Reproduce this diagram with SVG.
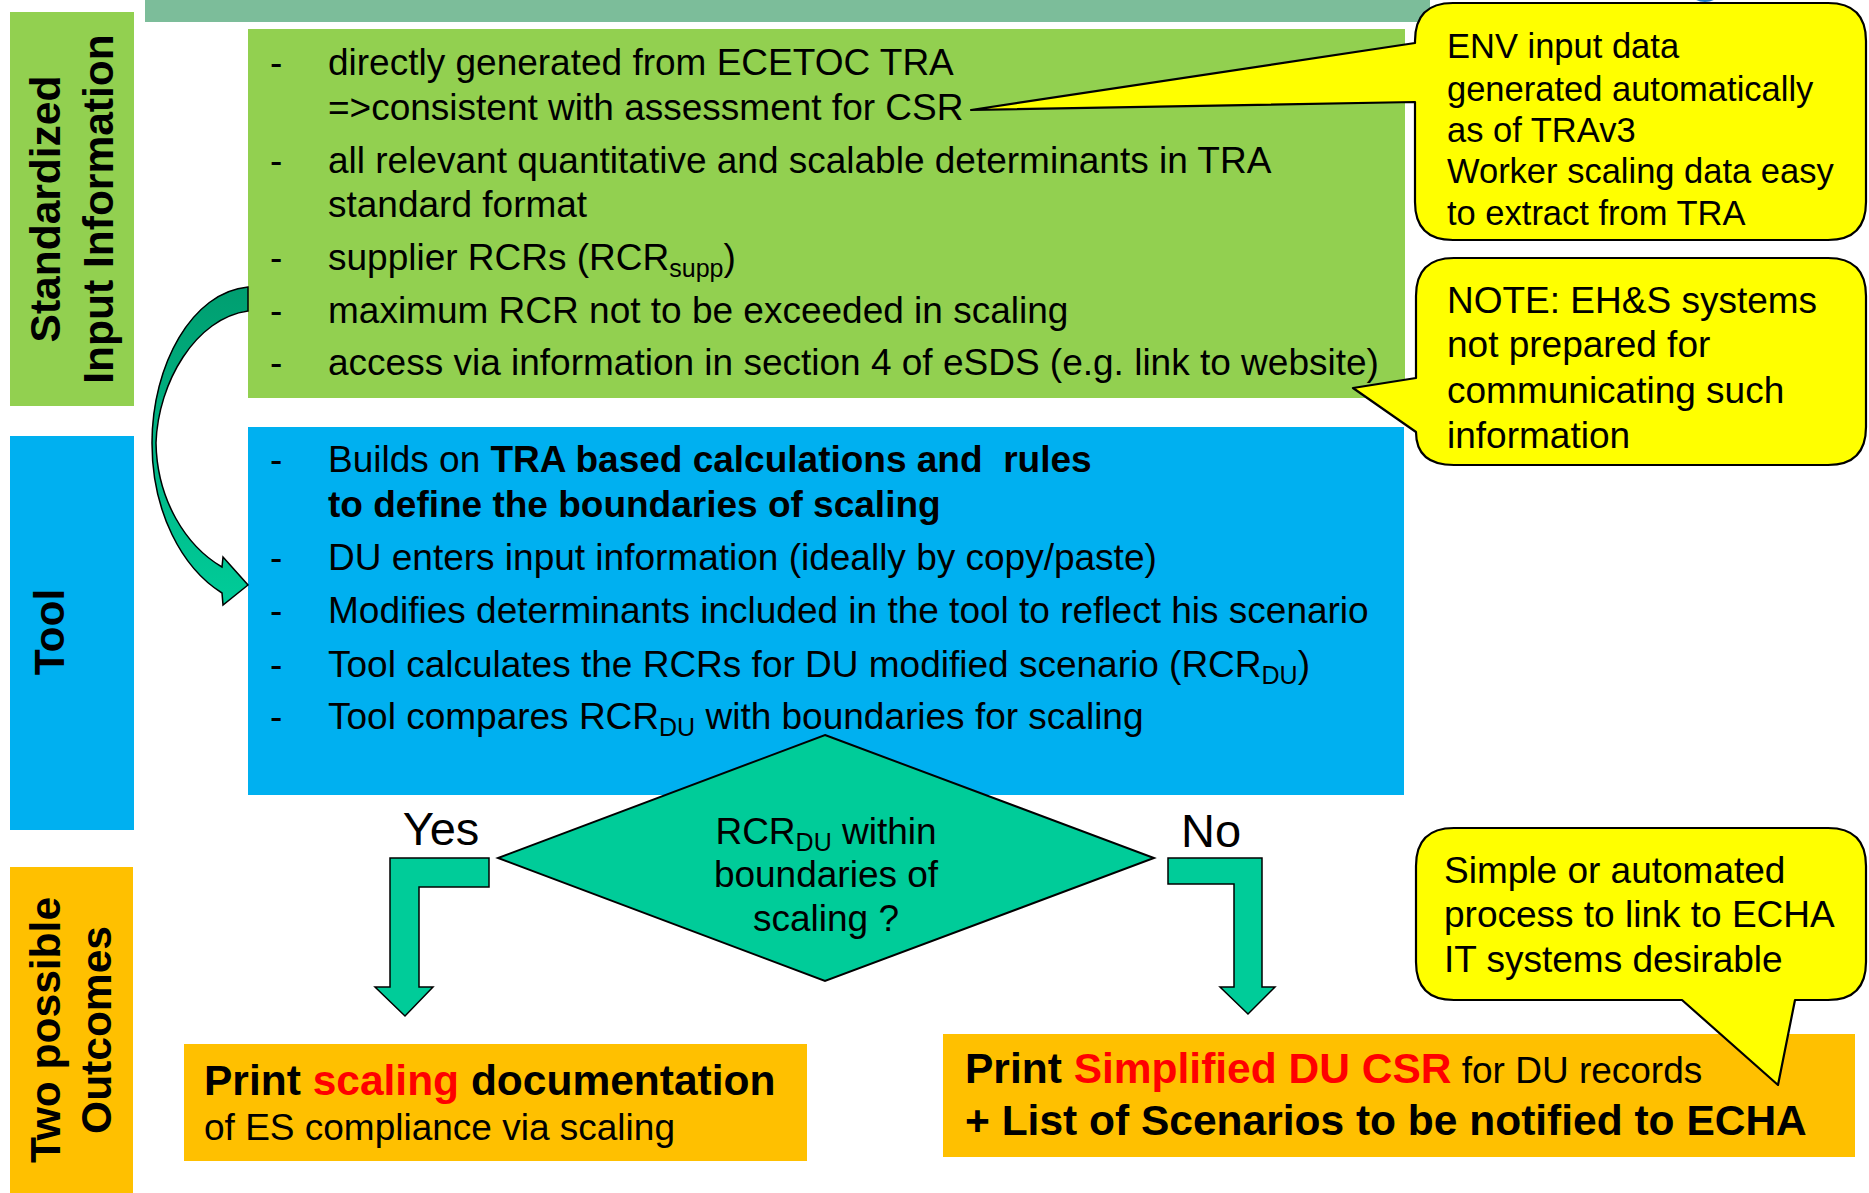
<svg xmlns="http://www.w3.org/2000/svg" width="1869" height="1193" viewBox="0 0 1869 1193">
<style>
text{font-family:"Liberation Sans",Arial,sans-serif;fill:#000}
.t{font-size:37px}
.c{font-size:34.5px}
.c2{font-size:37px}
.b{font-weight:bold}
.lab{font-size:42.5px;font-weight:bold}
.red{fill:#FF0000}
.call{fill:#FFFF00;stroke:#000;stroke-width:2.2;stroke-linejoin:round}
.arr{fill:#00CC99;stroke:#000;stroke-width:1.5;stroke-linejoin:miter}
</style>
<defs>
<linearGradient id="cg" x1="0" y1="0" x2="0" y2="1">
<stop offset="0" stop-color="#009E70"/>
<stop offset="1" stop-color="#00CC99"/>
</linearGradient>
</defs>
<rect width="1869" height="1193" fill="#fff"/>
<g id="topbar">
<rect x="145" y="0" width="1285" height="22" fill="#7CBD9A"/>
<ellipse cx="1705" cy="-12" rx="17" ry="14" fill="#1F78C8"/>
</g>
<g id="label-input">
<rect x="10" y="12" width="124" height="394" fill="#92D050"/>
<text class="lab" text-anchor="middle" transform="translate(60,209) rotate(-90)">Standardized</text>
<text class="lab" text-anchor="middle" transform="translate(113,209) rotate(-90)">Input Information</text>
</g>
<g id="label-tool">
<rect x="10" y="436" width="124" height="394" fill="#00B0F0"/>
<text class="lab" text-anchor="middle" transform="translate(64,632) rotate(-90)">Tool</text>
</g>
<g id="label-outcomes">
<rect x="10" y="867" width="123" height="330" fill="#FFC000"/>
<text class="lab" text-anchor="middle" transform="translate(60,1030) rotate(-90)">Two possible</text>
<text class="lab" text-anchor="middle" transform="translate(111,1030) rotate(-90)">Outcomes</text>
</g>
<g id="input-info">
<rect x="248" y="29" width="1157" height="369" fill="#92D050"/>
<g class="t">
<text x="270" y="75">-</text>
<text x="328" y="75">directly generated from ECETOC TRA</text>
<text x="328" y="120">=&gt;consistent with assessment for CSR</text>
<text x="270" y="173">-</text>
<text x="328" y="173">all relevant quantitative and scalable determinants in TRA</text>
<text x="328" y="217">standard format</text>
<text x="270" y="270">-</text>
<text x="328" y="270">supplier RCRs (RCR<tspan font-size="25" dy="7">supp</tspan><tspan dy="-7">)</tspan></text>
<text x="270" y="323">-</text>
<text x="328" y="323">maximum RCR not to be exceeded in scaling</text>
<text x="270" y="375">-</text>
<text x="328" y="375">access via information in section 4 of eSDS (e.g. link to website)</text>
</g>
</g>
<g id="tool">
<rect x="248" y="427" width="1156" height="368" fill="#00B0F0"/>
<g class="t">
<text x="270" y="472">-</text>
<text x="328" y="472" xml:space="preserve">Builds on <tspan class="b">TRA based calculations and  rules</tspan></text>
<text x="328" y="517" class="b">to define the boundaries of scaling</text>
<text x="270" y="570">-</text>
<text x="328" y="570">DU enters input information (ideally by copy/paste)</text>
<text x="270" y="623">-</text>
<text x="328" y="623">Modifies determinants included in the tool to reflect his scenario</text>
<text x="270" y="677">-</text>
<text x="328" y="677">Tool calculates the RCRs for DU modified scenario (RCR<tspan font-size="25" dy="7">DU</tspan><tspan dy="-7">)</tspan></text>
<text x="270" y="729">-</text>
<text x="328" y="729">Tool compares RCR<tspan font-size="25" dy="7">DU</tspan><tspan dy="-7"> with boundaries for scaling</tspan></text>
</g>
</g>
<g id="decision">
<polygon points="825,735 1154,858 825,981 498,858" fill="#00CC99" stroke="#000" stroke-width="2"/>
<g class="t" text-anchor="middle">
<text x="826" y="844">RCR<tspan font-size="25" dy="7">DU</tspan><tspan dy="-7"> within</tspan></text>
<text x="826" y="887">boundaries of</text>
<text x="826" y="931">scaling ?</text>
</g>
</g>
<g id="outcome-scaling">
<rect x="184" y="1044" width="623" height="117" fill="#FFC000"/>
<text x="204" y="1095" class="b" font-size="42.5">Print <tspan class="red">scaling</tspan> documentation</text>
<text x="204" y="1140" class="t">of ES compliance via scaling</text>
</g>
<g id="outcome-csr">
<rect x="943" y="1034" width="912" height="123" fill="#FFC000"/>
<text x="965" y="1083" font-size="42.5"><tspan class="b">Print </tspan><tspan class="b red">Simplified DU CSR</tspan><tspan font-size="37"> for DU records</tspan></text>
<text x="965" y="1135" class="b" font-size="42.5">+ List of Scenarios to be notified to ECHA</text>
</g>
<g id="connectors">
<path d="M248,287 C192,292 152,365 152,443 C152,512 182,568 222,593 L223,605 L248,585 L223,557 L222,567 C186,546 157,500 156,443 C158,382 196,318 248,311 Z" fill="url(#cg)" stroke="#000" stroke-width="1.5"/>
<path class="arr" d="M489,858 L390,858 L390,987 L375,987 L405,1016 L433,987 L419,987 L419,887 L489,887 Z"/>
<path class="arr" d="M1168,858 L1262,858 L1262,987 L1275,987 L1248,1014 L1220,987 L1234,987 L1234,884 L1168,884 Z"/>
<text x="441" y="845" font-size="47" text-anchor="middle">Yes</text>
<text x="1211" y="847" font-size="47" text-anchor="middle">No</text>
</g>
<g id="note-env">
<path class="call" d="M1453,3 H1828 Q1866,3 1866,41 V202 Q1866,240 1828,240 H1453 Q1415,240 1415,202 V102 L971,110 L1415,43 V41 Q1415,3 1453,3 Z"/>
<g class="c">
<text x="1447" y="58">ENV input data</text>
<text x="1447" y="101">generated automatically</text>
<text x="1447" y="142">as of TRAv3</text>
<text x="1447" y="183">Worker scaling data easy</text>
<text x="1447" y="225">to extract from TRA</text>
</g>
</g>
<g id="note-ehs">
<path class="call" d="M1454,258 H1828 Q1866,258 1866,296 V427 Q1866,465 1828,465 H1454 Q1416,465 1416,432 L1353,388 L1416,378 V296 Q1416,258 1454,258 Z"/>
<g class="c2">
<text x="1447" y="313">NOTE: EH&amp;S systems</text>
<text x="1447" y="357">not prepared for</text>
<text x="1447" y="403">communicating such</text>
<text x="1447" y="448">information</text>
</g>
</g>
<g id="note-echa">
<path class="call" d="M1454,828 H1828 Q1866,828 1866,866 V962 Q1866,1000 1828,1000 H1795 L1778,1085 L1682,1000 H1454 Q1416,1000 1416,962 V866 Q1416,828 1454,828 Z"/>
<g class="c2">
<text x="1444" y="883">Simple or automated</text>
<text x="1444" y="927">process to link to ECHA</text>
<text x="1444" y="972">IT systems desirable</text>
</g>
</g>
</svg>
